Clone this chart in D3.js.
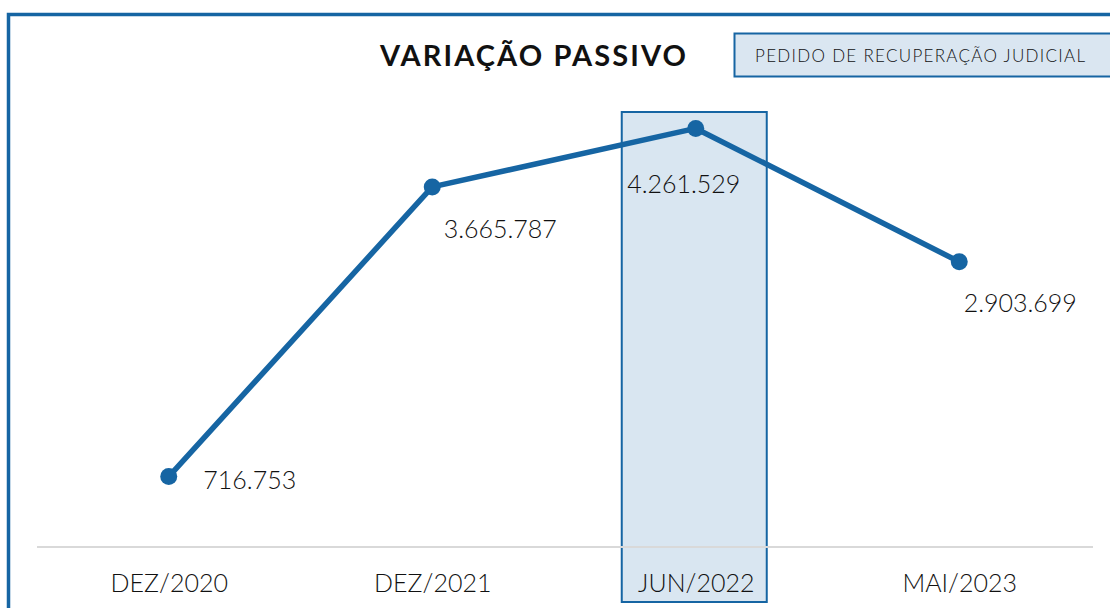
<!DOCTYPE html>
<html>
<head>
<meta charset="utf-8">
<script src="https://cdn.jsdelivr.net/npm/d3@7"></script>
<style>
  body { margin: 0; background: #fff; }
  svg { display: block; font-family: Lato, "Open Sans", sans-serif; }
</style>
</head>
<body>
<div id="main"></div>
<script>
// data
var categories = ["DEZ/2020", "DEZ/2021", "JUN/2022", "MAI/2023"];
var values = [716753, 3665787, 4261529, 2903699];
var labels = ["716.753", "3.665.787", "4.261.529", "2.903.699"];
var highlighted = "JUN/2022";
var title = "VARIAÇÃO PASSIVO";
var legendText = "PEDIDO DE RECUPERAÇÃO JUDICIAL";

var width = 1110, height = 608;
var blue = "#1665a3";

var translate = function(x, y) {
  return "translate(" + x + "," + y + ")";
};

var svg = d3.select("#main").append("svg")
    .attr("width", width)
    .attr("height", height);

var x = d3.scalePoint()
    .domain(categories)
    .range([37, 1091])
    .padding(0.5);

var y = d3.scaleLinear()
    .domain([0, 4500000])
    .range([547, 105]);

// label offsets (Excel labels were dragged by hand)
var labelOffsets = [[81, 12], [68, 51], [-12, 65], [61, 50]];

// highlight band
svg.append("rect")
    .attr("x", x(highlighted) - 74)
    .attr("y", 112)
    .attr("width", 145)
    .attr("height", 490)
    .attr("fill", "#d9e6f1")
    .attr("stroke", blue)
    .attr("stroke-width", 2);

// baseline
svg.append("line")
    .attr("x1", 37).attr("x2", 1093)
    .attr("y1", y(0)).attr("y2", y(0))
    .attr("stroke", "#d9d9d9")
    .attr("stroke-width", 2);

// category axis
var xAxis = d3.axisBottom(x).tickSize(0).tickPadding(0);
svg.append("g")
    .attr("class", "x axis")
    .attr("transform", translate(0, 592))
    .call(xAxis)
    .call(function(g) { g.select(".domain").remove(); })
    .selectAll("text")
      .attr("dy", 0)
      .attr("font-size", 25)
      .attr("font-weight", 300)
      .attr("font-family", "Lato, sans-serif")
      .attr("fill", "#111");

var data = categories.map(function(c, i) {
  return {cat: c, value: values[i], label: labels[i], off: labelOffsets[i]};
});

var line = d3.line()
    .x(function(d) { return x(d.cat); })
    .y(function(d) { return y(d.value); });

svg.append("path")
    .datum(data)
    .attr("d", line)
    .attr("fill", "none")
    .attr("stroke", blue)
    .attr("stroke-width", 5.5)
    .attr("stroke-linejoin", "round");

svg.selectAll(".dot")
    .data(data)
    .enter().append("circle")
      .attr("class", "dot")
      .attr("cx", function(d) { return x(d.cat); })
      .attr("cy", function(d) { return y(d.value); })
      .attr("r", 8.5)
      .attr("fill", blue);

svg.selectAll(".val")
    .data(data)
    .enter().append("text")
      .attr("class", "val")
      .attr("x", function(d) { return x(d.cat) + d.off[0]; })
      .attr("y", function(d) { return y(d.value) + d.off[1]; })
      .attr("text-anchor", "middle")
      .attr("font-size", 25)
      .attr("font-weight", 300)
      .attr("fill", "#111")
      .text(function(d) { return d.label; });

// title
svg.append("text")
    .attr("x", 534)
    .attr("y", 66)
    .attr("text-anchor", "middle")
    .attr("font-size", 29)
    .attr("font-weight", "bold")
    .attr("letter-spacing", 2.1)
    .attr("fill", "#111")
    .text(title);

// legend box
svg.append("rect")
    .attr("x", 734.5)
    .attr("y", 33.5)
    .attr("width", 400)
    .attr("height", 43)
    .attr("fill", "#dae6f1")
    .attr("stroke", blue)
    .attr("stroke-width", 2);

svg.append("text")
    .attr("x", 755)
    .attr("y", 62)
    .attr("font-size", 17)
    .attr("font-weight", 300)
    .attr("letter-spacing", 1.3)
    .attr("fill", "#111")
    .text(legendText);

// outer frame (cut off at right and bottom)
svg.append("rect")
    .attr("x", 8.5)
    .attr("y", 14.5)
    .attr("width", 1300)
    .attr("height", 800)
    .attr("fill", "none")
    .attr("stroke", blue)
    .attr("stroke-width", 3.5);
</script>
</body>
</html>
